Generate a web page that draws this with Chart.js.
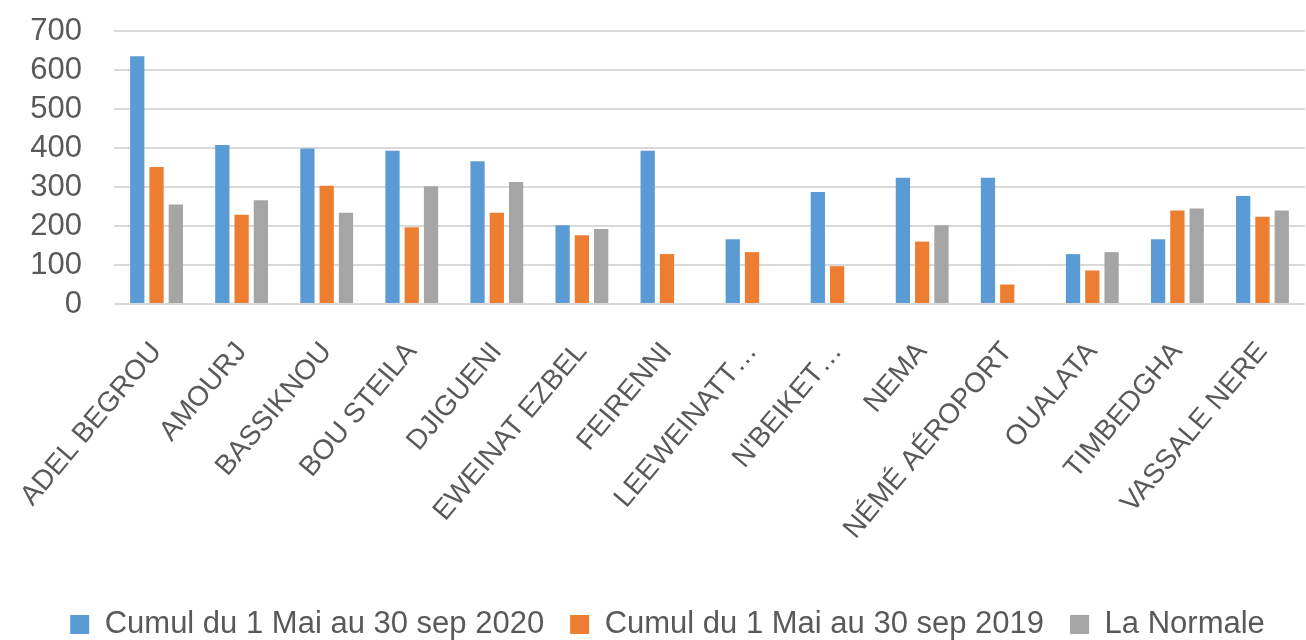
<!DOCTYPE html>
<html>
<head>
<meta charset="utf-8">
<script src="https://cdn.jsdelivr.net/npm/chart.js@4/dist/chart.umd.min.js"></script>
<style>
  html, body { margin: 0; padding: 0; background: #ffffff; }
  #wrap { width: 1306px; height: 640px; }
</style>
</head>
<body>
<div id="wrap"><canvas id="c" width="1306" height="640"></canvas></div>
<script>
const categories = ["ADEL BEGROU", "AMOURJ", "BASSIKNOU", "BOU STEILA", "DJIGUENI", "EWEINAT EZBEL", "FEIRENNI", "LEEWEINATT…", "N'BEIKET…", "NEMA", "NÉMÉ AÉROPORT", "OUALATA", "TIMBEDGHA", "VASSALE NERE"];
const seriesNames = ["Cumul du 1 Mai au 30 sep 2020", "Cumul du 1 Mai au 30 sep 2019", "La Normale"];
const cumul2020 = [635, 408, 399, 393, 366, 202, 393, 166, 287, 324, 324, 128, 166, 277];
const cumul2019 = [351, 229, 303, 197, 234, 176, 128, 133, 97, 160, 50, 86, 240, 224];
const normale = [255, 266, 234, 302, 313, 192, null, null, null, 202, null, 133, 245, 240];
const yTicks = [0, 100, 200, 300, 400, 500, 600, 700];

const FONT = "'Liberation Sans', Arial, sans-serif";
const TXT = '#595959';

new Chart(document.getElementById('c'), {
  type: 'bar',
  data: {
    labels: categories,
    datasets: [
      { label: seriesNames[0], data: cumul2020, backgroundColor: '#5B9BD5' },
      { label: seriesNames[1], data: cumul2019, backgroundColor: '#ED7D31' },
      { label: seriesNames[2], data: normale, backgroundColor: '#A5A5A5' }
    ]
  },
  options: {
    responsive: false,
    animation: false,
    devicePixelRatio: 1,
    layout: { padding: { top: 31, right: 1, left: 30, bottom: -10 } },
    datasets: { bar: { categoryPercentage: 0.68, barPercentage: 0.74 } },
    scales: {
      x: {
        grid: { display: false },
        border: { display: false },
        afterFit: (scale) => { scale.paddingLeft = 0; scale.paddingRight = 0; scale.height += 13.5; },
        ticks: {
          autoSkip: false,
          minRotation: 50,
          maxRotation: 50,
          color: TXT,
          font: { family: FONT, size: 28 },
          padding: 24
        }
      },
      y: {
        min: 0,
        max: 700,
        afterBuildTicks: (axis) => { axis.ticks = yTicks.map(v => ({ value: v })); },
        afterFit: (scale) => { scale.width = 84; scale.paddingTop = 0; scale.paddingBottom = 0; },
        grid: { color: '#d9d9d9', lineWidth: 2, drawTicks: false },
        border: { display: false },
        ticks: {
          autoSkip: false,
          color: TXT,
          font: { family: FONT, size: 31 },
          padding: 32
        }
      }
    },
    plugins: {
      legend: {
        position: 'bottom',
        labels: {
          color: TXT,
          font: { family: FONT, size: 31 },
          boxWidth: 19,
          boxHeight: 19,
          padding: 26
        }
      },
      tooltip: { enabled: false }
    }
  }
});
</script>
</body>
</html>
